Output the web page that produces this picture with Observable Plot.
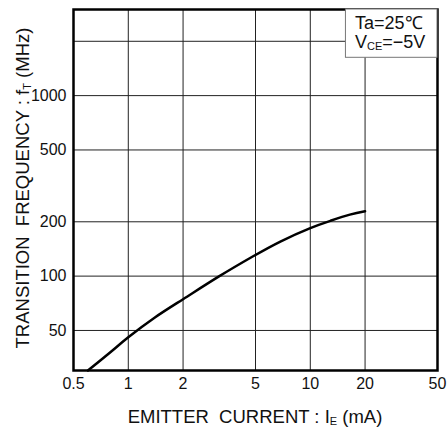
<!DOCTYPE html>
<html>
<head>
<meta charset="utf-8">
<script src="https://cdn.jsdelivr.net/npm/d3@7"></script>
<script src="https://cdn.jsdelivr.net/npm/@observablehq/plot@0.6"></script>
<style>
  body { margin: 0; background: #fff; }
  svg text { font-family: Arial, "Liberation Sans", sans-serif; }
</style>
</head>
<body>
<div id="chart"></div>
<script>
// ---- data ----
const current = [0.6, 0.8, 1, 1.4, 2, 3.15, 4.8, 6.85, 10, 12.9, 16.5, 20];          // IE (mA)
const ft      = [30, 38, 45.8, 59, 74.5, 99.6, 128, 155.5, 184.5, 202.5, 219, 229]; // fT (MHz)
const xTicks = [0.5, 1, 2, 5, 10, 20, 50];
const yTicks = [50, 100, 200, 500, 1000];
const xGrid = [1, 2, 5, 10, 20];
const yGrid = [50, 100, 200, 500, 1000, 2000];
const xDomain = [0.5, 50];
const yDomain = [30, 3000];
const legendBox = [{x1: 15.7, x2: 50, y1: 1620, y2: 3000}];

const data = current.map((x, i) => ({x, y: ft[i]}));

const chart = Plot.plot({
  width: 447,
  height: 430,
  marginLeft: 73,
  marginRight: 10,
  marginTop: 9,
  marginBottom: 60,
  style: {fontSize: "16px", fontFamily: "Arial, 'Liberation Sans', sans-serif", color: "#111", background: "#fff"},
  x: {type: "log", domain: xDomain},
  y: {type: "log", domain: yDomain},
  marks: [
    Plot.ruleX(xGrid, {stroke: "#222", strokeWidth: 1}),
    Plot.ruleY(yGrid, {stroke: "#222", strokeWidth: 1}),
    Plot.axisX({ticks: xTicks, tickSize: 0, tickPadding: 7, tickFormat: d => String(d), label: null}),
    Plot.axisY({ticks: yTicks, tickSize: 0, tickPadding: 7, tickFormat: d => String(d), label: null}),
    Plot.frame({stroke: "#000", strokeWidth: 2.5}),
    Plot.line(data, {x: "x", y: "y", stroke: "#000", strokeWidth: 2.5, curve: "natural"}),
    Plot.rect(legendBox, {x1: "x1", x2: "x2", y1: "y1", y2: "y2", fill: "#fff", stroke: "#777", strokeWidth: 1, inset: 0})
  ]
});

document.getElementById("chart").appendChild(chart);

const svg = d3.select(chart);

// x-axis title
const xt = svg.append("text")
  .attr("x", 255).attr("y", 423)
  .attr("text-anchor", "middle")
  .style("font-size", "18.5px").style("white-space", "pre").attr("fill", "#111");
xt.append("tspan").text("EMITTER  CURRENT : I");
xt.append("tspan").text("E").style("font-size", "11px").attr("dy", 2);
xt.append("tspan").text(" (mA)").attr("dy", -2);

// y-axis title
const yt = svg.append("text")
  .attr("transform", "translate(29,188) rotate(-90)")
  .attr("text-anchor", "middle")
  .style("font-size", "18.5px").style("white-space", "pre").attr("fill", "#111");
yt.append("tspan").text("TRANSITION  FREQUENCY : f");
yt.append("tspan").text("T").style("font-size", "11px").attr("dy", 2);
yt.append("tspan").text(" (MHz)").attr("dy", -2);

// conditions legend
svg.append("text").attr("x", 355).attr("y", 29).attr("text-anchor", "start")
  .style("font-size", "18px").attr("fill", "#111").text("Ta=25℃");
const l2 = svg.append("text").attr("x", 355).attr("y", 48).attr("text-anchor", "start")
  .style("font-size", "18px").attr("fill", "#111");
l2.append("tspan").text("V");
l2.append("tspan").text("CE").style("font-size", "11px").attr("dy", 2);
l2.append("tspan").text("=−5V").attr("dy", -2);
</script>
</body>
</html>
